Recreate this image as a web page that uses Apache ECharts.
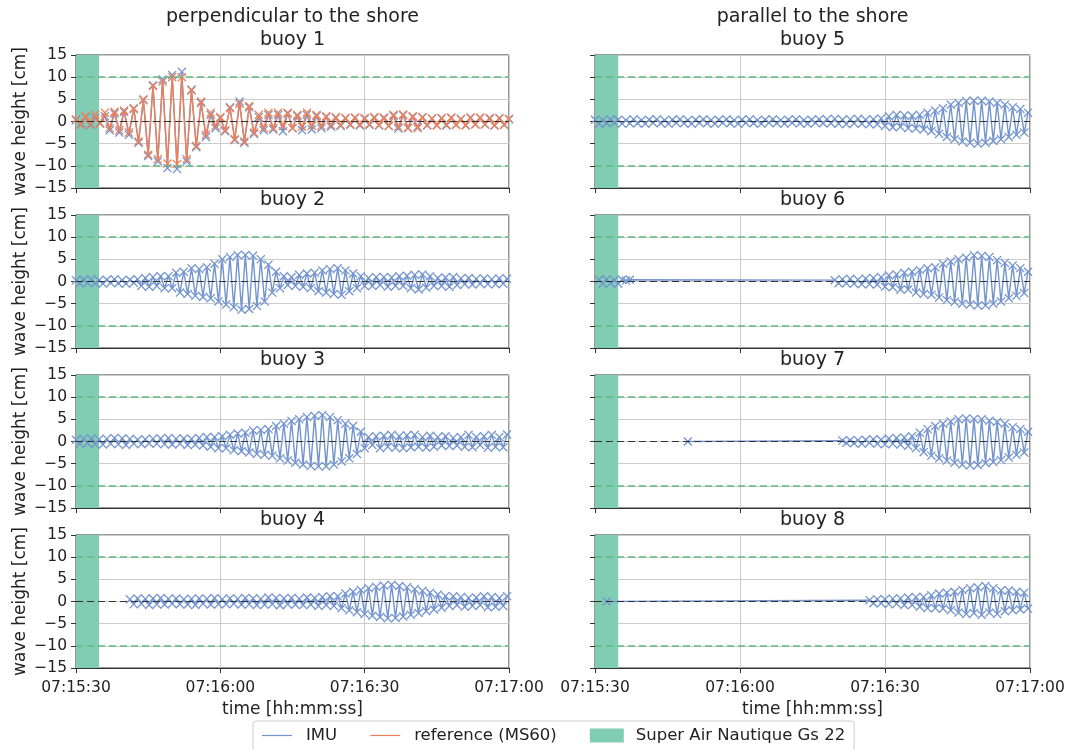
<!DOCTYPE html>
<html>
<head>
<meta charset="utf-8">
<script src="https://cdn.jsdelivr.net/npm/echarts@6/dist/echarts.min.js"></script>
<style>
  html, body { margin: 0; padding: 0; background: #fff; }
  #chart { width: 1081px; height: 749px; }
</style>
</head>
<body>
<div id="chart"></div>
<script>
// sample spacing of the records, seconds
var STEP_B1 = 1.0;   // buoy 1 (IMU and MS60 reference)
var STEP = 0.8;      // buoys 2..8

var xTickLabels = ['07:15:30', '07:16:00', '07:16:30', '07:17:00'];
var columnTitles = ['perpendicular to the shore', 'parallel to the shore'];
var boatPassEnd = 4.8;   // seconds after 07:15:30
var guideLevels = [-10, 10];

// buoy 1 (IMU + reference), from 07:15:30
var imu1Start = 0;
var imu1 = [0.3, -0.5, 1.0, -0.8, 0.8,
  -0.3, 1.2, -2.0, 1.8, -2.5, 2.2, -3.0, 2.8,
  -4.8, 4.8, -7.8, 8.2, -9.0, 9.5, -10.5, 10.5, -10.7, 11.2, -9.0, 7.2, -5.8, 4.2, -3.5, 1.5,
  -1.5, 0.8,
  -2.2, 3.2, -4.2, 4.5, -4.8, 3.2, -2.8,
  1.0, -2.0, 1.5, -1.8, 1.5, -2.2, 1.8, -1.5, 1.2, -2.0, 1.5, -1.8, 1.2, -1.5, 1.0, -1.2, 0.8, -1.0,
  0.7, -0.8, 0.8, -0.9, 0.6, -0.8, 0.8, -0.9, 0.7, -1.0,
  1.3, -1.6, 1.4, -1.5, 1.0, -1.2, 0.9,
  -0.9, 0.6, -0.8, 0.7, -0.9, 0.8, -0.7, 0.5, -0.8, 0.9, -0.6, 0.8, -0.7, 0.6, -0.9, 0.8, -0.7, 0.5];
var ref1 = [0.5, -0.8, 1.2, -0.6, 1.5,
  -0.5, 2.0, -1.5, 2.2, -2.0, 2.5, -2.5, 3.0,
  -4.5, 5.0, -7.5, 8.0, -8.5, 9.0, -9.5, 10.0, -9.6, 10.0, -8.5, 7.0, -5.5, 4.5, -3.0, 2.0,
  -1.0, 1.0,
  -2.0, 3.0, -4.0, 4.0, -4.5, 3.5, -2.5,
  1.5, -1.5, 2.0, -1.5, 2.0, -1.0, 2.0, -1.5, 1.5, -1.2, 2.0, -1.0, 1.5, -1.0, 1.2, -0.8, 1.0, -0.8,
  0.8, -0.6, 0.9, -0.7, 0.8, -0.6, 1.0, -0.8, 0.9, -1.0,
  1.5, -1.2, 1.6, -1.4, 1.2, -1.5, 1.0,
  -0.8, 0.7, -0.9, 0.8, -0.7, 0.9, -0.8, 0.6, -0.9, 0.8, -0.7, 0.9, -0.6, 0.8, -0.9, 0.7, -0.8, 0.6];

var imu2Start = 0;
var imu2 = [0.3, -0.4, 0.4, -0.3, 0.5, -0.4, 0.3, -0.5, 0.4, -0.3, 0.5, -0.4, 0.3, -0.5, 0.4, -0.3, 0.5,
  -1.0, 0.8, -1.2, 1.0, -1.0, 1.2, -1.5, 1.2, -1.5,
  2.0, -2.5, 2.2, -2.8, 3.0, -3.2, 2.8, -3.5, 3.2,
  -3.8, 4.0, -4.5, 5.0, -5.2, 5.5, -5.8, 6.0, -6.4, 6.0, -6.2, 5.8, -5.5, 5.0, -4.5, 3.8,
  -2.5, 2.2, -1.5, 1.2, -0.8, 1.0, -1.0, 1.5, -1.2, 1.8, -1.5,
  2.0, -2.2, 2.5, -2.5, 2.8, -2.8, 3.0, -3.0, 2.5, -2.2, 1.8, -1.5, 1.2,
  -1.0, 0.8, -1.0, 1.0, -0.8, 1.0, -1.2, 0.9, -1.0, 1.2, -1.0, 1.3, -1.5, 1.5, -1.8, 1.6, -1.4, 1.2, -1.0, 0.8,
  -1.0, 0.9, -1.2, 1.0, -0.8, 0.7, -0.6, 0.8, -0.7, 0.6, -0.5, 0.7, -0.6, 0.5, -0.6, 0.7, -0.5, 0.6];

var imu3Start = 0;
var imu3 = [0.4, -0.5, 0.6, -0.4, 0.7, -0.6, 0.5, -0.7, 0.6, -0.5, 0.8, -0.6, 0.7, -0.8, 0.6, -0.5, 0.4,
  -0.6, 0.5, -0.4, 0.6, -0.5, 0.7, -0.6, 0.8, -0.7, 0.6, -0.5, 0.7, -0.8, 0.6, -0.7, 0.8, -0.9,
  1.0, -1.2, 1.0, -1.5, 1.2, -1.5, 1.5, -2.0, 1.8, -2.2, 2.0, -2.5, 2.5, -2.8, 2.6, -3.0, 2.8,
  -3.2, 3.5, -3.8, 4.0, -4.3, 4.6, -4.8, 5.0, -5.2, 5.5, -5.5, 5.8, -5.6, 6.0, -5.6, 5.5, -5.2, 4.8, -4.5, 4.0, -3.8, 3.5,
  -2.8, 2.2, -1.5,
  1.0, -0.8, 1.2, -1.5, 1.3, -1.2, 1.5, -1.4, 1.2, -1.5, 1.4, -1.3, 1.5, -1.2, 1.0, -1.4, 1.3, -1.2, 1.0, -0.9,
  1.2, -1.0, 0.8, -0.9, 1.0, -1.2, 1.5, -1.3, 1.0, -0.8, 1.2, -1.4, 1.5, -1.2, 1.0, -1.3, 1.6];

var imu4Start = 11.2;
var imu4 = [0.5, -0.6, 0.7, -0.5, 0.6, -0.8, 0.7, -0.6, 0.8, -0.7,
  0.6, -0.5, 0.7, -0.6, 0.5, -0.7, 0.6, -0.8, 0.7, -0.5,
  0.6, -0.7, 0.8, -0.6, 0.5, -0.6, 0.7, -0.5, 0.6, -0.7,
  0.8, -0.6, 0.7, -0.8, 0.6, -0.7, 0.9, -0.6, 0.8, -0.9,
  0.7, -0.6, 0.8, -0.7, 0.6, -0.8, 0.9, -0.7, 0.8, -1.0,
  1.0, -0.8, 1.2, -1.0, 1.2,
  -1.5, 1.8, -2.0, 2.2, -2.4, 2.6, -2.8, 3.0, -3.2, 3.3, -3.5, 3.6, -3.8, 3.8,
  -3.7, 3.5, -3.4, 3.2, -3.0, 2.8, -2.6, 2.4, -2.2, 2.0, -1.8, 1.6, -1.4, 1.2,
  -1.0, 1.2, -0.8, 1.0, -1.2, 0.8, -1.0, 0.9, -0.8, 1.2, -1.3, 1.0, -1.2, 0.8, -1.0, 1.2];

var imu5Start = 0;
var imu5 = [0.4, -0.5, 0.3, -0.4, 0.5, -0.3, 0.4, -0.5, 0.3, -0.4,
  0.5, -0.4, 0.3, -0.5, 0.4, -0.3, 0.5, -0.4, 0.3, -0.5,
  0.4, -0.3, 0.5, -0.4, 0.3, -0.5, 0.4, -0.3, 0.5, -0.4,
  0.3, -0.5, 0.4, -0.3, 0.5, -0.4, 0.3, -0.5, 0.4, -0.3,
  0.5, -0.4, 0.3, -0.5, 0.4, -0.3, 0.5, -0.4, 0.3, -0.5,
  0.4, -0.3, 0.5, -0.4, 0.3, -0.5, 0.4, -0.3, 0.5, -0.4,
  0.5, -0.4, 0.6, -0.5, 0.4, -0.6, 0.5, -0.4, 0.6, -0.5, 0.4, -0.6, 0.5, -0.6, 0.7,
  -1.0, 1.2, -1.3, 1.5, -1.2, 1.4, -1.5, 1.3, -1.6, 1.5, -1.8, 2.0, -2.2, 2.5, -2.8,
  3.0, -3.5, 3.8, -4.0, 4.2, -4.5, 4.6, -4.8, 4.7, -5.0, 4.7, -4.8, 4.5, -4.4, 4.2, -4.0, 3.8, -3.5, 3.2, -3.0, 2.8, -2.5, 2.0];

var imu6aStart = 0.8;
var imu6a = [0.4, -0.5, 0.5, -0.4, 0.3, -0.5, 0.4, 0.2, 0.4];
var imu6bStart = 49.6;
var imu6b = [0.3, -0.4, 0.5, -0.4, 0.6, -0.5, 0.4, -0.6, 0.7, -0.6, 0.8, -0.7,
  1.0, -1.2, 1.4, -1.3, 1.6, -1.8, 2.0, -1.8, 2.2, -2.5, 2.6, -2.8, 3.0, -3.0,
  3.2, -3.6, 4.0, -4.2, 4.5, -4.6, 5.0, -5.0, 5.4, -5.2, 5.9, -5.4, 5.8, -5.4, 5.5, -5.0, 4.8, -4.5, 4.2, -3.8, 3.6, -3.2, 3.0, -2.6, 2.2];

var imu7aStart = 19.2;
var imu7a = [0.0];
var imu7bStart = 51.2;
var imu7b = [0.2, -0.3, 0.3, -0.4, 0.3, -0.5, 0.4, -0.3, 0.5, -0.5, 0.4, -0.6, 0.7, -0.5, 0.8, -0.7, 0.9, -1.0, 1.2,
  -1.5, 2.0, -2.4, 2.8, -3.2, 3.5, -3.8, 4.0, -4.3, 4.5, -4.8, 5.0, -5.2, 5.2, -5.4, 5.1, -5.3, 5.0, -4.9, 4.7,
  -4.6, 4.4, -4.2, 4.0, -3.6, 3.2, -3.0, 2.8, -2.5, 2.2];

var imu8aStart = 2.4;
var imu8a = [0.0];
var imu8bStart = 56.8;
var imu8b = [0.3, -0.4, 0.5, -0.4, 0.5, -0.6, 0.6, -0.5, 0.7, -0.8, 0.9, -0.8, 1.0,
  -1.2, 1.0, -1.5, 1.4, -1.5, 1.8, -1.6, 2.0, -2.0, 2.2, -2.5, 2.6, -2.8, 3.0, -2.6,
  3.2, -3.0, 3.5, -2.5, 3.0, -2.8, 2.5, -2.2, 2.5, -2.0, 2.2, -1.8, 2.0, -1.6];

var buoyNames = ['buoy 1', 'buoy 2', 'buoy 3', 'buoy 4', 'buoy 5', 'buoy 6', 'buoy 7', 'buoy 8'];

var C_IMU = '#7394cf';
var C_REF = '#ef7f56';
var C_BOAT = '#80cdb4';
var C_GUIDE = '#5fbb7f';
var C_GRID = '#cccccc';
var C_AXIS = '#333333';
var FONT = 'DejaVu Sans';

var CROSS = 'path://M0,1L1,0L5,4L9,0L10,1L6,5L10,9L9,10L5,6L1,10L0,9L4,5Z';
var LINE_ICON = 'path://M0,0M0,6.4H30V7.6H0ZM30,14';

function seg(start, step, values) {
  return values.map(function (v, i) { return [start + i * step, v]; });
}

var imuData = [
  seg(imu1Start, STEP_B1, imu1),
  seg(imu2Start, STEP, imu2),
  seg(imu3Start, STEP, imu3),
  seg(imu4Start, STEP, imu4),
  seg(imu5Start, STEP, imu5),
  seg(imu6aStart, STEP, imu6a).concat(seg(imu6bStart, STEP, imu6b)),
  seg(imu7aStart, STEP, imu7a).concat(seg(imu7bStart, STEP, imu7b)),
  seg(imu8aStart, STEP, imu8a).concat(seg(imu8bStart, STEP, imu8b))
];
var refData = [seg(imu1Start, STEP_B1, ref1), null, null, null, null, null, null, null];

// panel layout
var colLeft = [76, 595];
var colWidth = [433, 435];
var rowTop = [55, 215, 375, 535];
var panelHeight = 133;

var grids = [], xAxes = [], yAxes = [], series = [], titles = [];

for (var c = 0; c < 2; c++) {
  titles.push({
    text: columnTitles[c],
    left: colLeft[c] + colWidth[c] / 2, top: 8, textAlign: 'center', padding: 0,
    textStyle: { fontFamily: FONT, fontSize: 19, fontWeight: 'normal', color: '#222' }
  });
}

for (var k = 0; k < 8; k++) {
  var col = k < 4 ? 0 : 1;
  var row = k % 4;
  var bottomRow = row === 3;

  titles.push({
    text: buoyNames[k],
    left: colLeft[col] + colWidth[col] / 2, top: rowTop[row] - 24, textAlign: 'center', padding: 0,
    textStyle: { fontFamily: FONT, fontSize: 19, fontWeight: 'normal', color: '#222' }
  });

  grids.push({
    left: colLeft[col], top: rowTop[row], width: colWidth[col], height: panelHeight,
    show: true, borderColor: C_AXIS, borderWidth: 1, backgroundColor: 'transparent'
  });

  xAxes.push({
    gridIndex: k, type: 'value', min: 0, max: 90, interval: 30,
    name: bottomRow ? 'time [hh:mm:ss]' : '',
    nameLocation: 'middle', nameGap: 33,
    nameTextStyle: { fontFamily: FONT, fontSize: 17, color: '#222' },
    axisLine: { show: true, onZero: false, lineStyle: { color: C_AXIS } },
    axisTick: { show: true, inside: false, length: 5, lineStyle: { color: C_AXIS } },
    axisLabel: {
      show: bottomRow, margin: 12, fontFamily: FONT, fontSize: 15.5, color: '#222',
      formatter: function (v) { return xTickLabels[Math.round(v / 30)]; }
    },
    splitLine: { show: true, lineStyle: { color: C_GRID, width: 1 } }
  });

  yAxes.push({
    gridIndex: k, type: 'value', min: -15, max: 15, interval: 5,
    name: col === 0 ? 'wave height [cm]' : '',
    nameLocation: 'middle', nameGap: 47, nameRotate: 90,
    nameTextStyle: { fontFamily: FONT, fontSize: 17, color: '#222' },
    axisLine: { show: true, onZero: false, lineStyle: { color: C_AXIS } },
    axisTick: { show: true, inside: false, length: 5, lineStyle: { color: C_AXIS } },
    axisLabel: {
      show: col === 0, margin: 9, fontFamily: FONT, fontSize: 15.5, color: '#222',
      formatter: function (v) { return v < 0 ? '\u2212' + Math.abs(v) : String(v); }
    },
    splitLine: { show: true, lineStyle: { color: C_GRID, width: 1 } }
  });

  // boat pass shading
  series.push({
    name: 'Super Air Nautique Gs 22', type: 'line', xAxisIndex: k, yAxisIndex: k,
    data: [], z: 1, itemStyle: { color: C_BOAT }, lineStyle: { color: C_BOAT },
    markArea: {
      silent: true,
      itemStyle: { color: C_BOAT, opacity: 1 },
      data: [[{ xAxis: 0 }, { xAxis: boatPassEnd }]]
    }
  });

  series.push({
    name: 'IMU', type: 'line', xAxisIndex: k, yAxisIndex: k,
    data: imuData[k], z: 3,
    symbol: CROSS, symbolSize: 9, showAllSymbol: true,
    color: C_IMU,
    itemStyle: { color: C_IMU },
    lineStyle: { color: C_IMU, width: 1.4 }
  });

  if (refData[k]) {
    series.push({
      name: 'reference (MS60)', type: 'line', xAxisIndex: k, yAxisIndex: k,
      data: refData[k], z: 4,
      symbol: CROSS, symbolSize: 9, showAllSymbol: true,
      color: C_REF,
      itemStyle: { color: C_REF },
      lineStyle: { color: C_REF, width: 1.4 }
    });
  }

  // guide lines: zero and +-10 cm
  series.push({
    name: 'guides', type: 'line', xAxisIndex: k, yAxisIndex: k,
    data: [], z: 5,
    markLine: {
      silent: true, symbol: 'none', label: { show: false },
      data: [
        { yAxis: guideLevels[0], lineStyle: { color: C_GUIDE, type: [7, 4], width: 1.5 } },
        { yAxis: guideLevels[1], lineStyle: { color: C_GUIDE, type: [7, 4], width: 1.5 } },
        { yAxis: 0, lineStyle: { color: '#333333', type: [7, 4], width: 1.2 } }
      ]
    }
  });
}

var chart = echarts.init(document.getElementById('chart'), null, { renderer: 'canvas' });
chart.setOption({
  animation: false,
  backgroundColor: '#ffffff',
  title: titles,
  grid: grids,
  xAxis: xAxes,
  yAxis: yAxes,
  legend: {
    left: 253, top: 721,
    padding: [6, 9, 6, 9],
    itemGap: 33, itemWidth: 34, itemHeight: 14,
    borderColor: '#cccccc', borderWidth: 1, borderRadius: 3,
    textStyle: { fontFamily: FONT, fontSize: 16.5, color: '#222', padding: [0, 0, 0, 7] },
    data: [
      { name: 'IMU', icon: LINE_ICON },
      { name: 'reference (MS60)', icon: LINE_ICON },
      { name: 'Super Air Nautique Gs 22', icon: 'rect' }
    ]
  },
  series: series
});
</script>
</body>
</html>
